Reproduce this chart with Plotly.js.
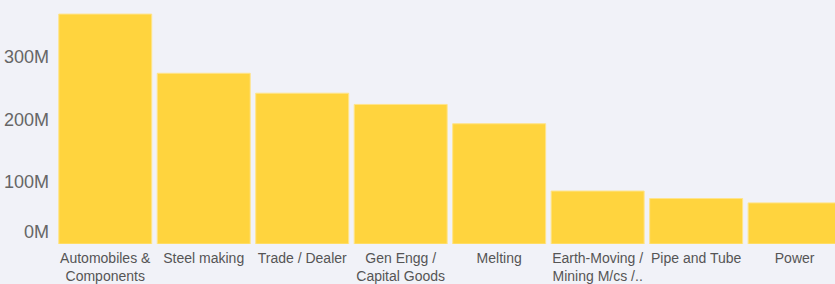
<!DOCTYPE html>
<html><head><meta charset="utf-8">
<script src="https://cdn.plot.ly/plotly-3.0.1.min.js"></script>
<style>html,body{margin:0;padding:0;background:#F1F2F8;}#c{width:835px;height:284px;}</style>
</head><body><div id="c"></div>
<script>
const categories = ["Automobiles &<br>Components", "Steel making", "Trade / Dealer", "Gen Engg /<br>Capital Goods", "Melting", "Earth-Moving /<br>Mining M/cs /..", "Pipe and Tube", "Power"];
const values = [369e6, 274e6, 242e6, 224e6, 193e6, 85e6, 73e6, 66e6];
const tickVals = [100e6, 200e6, 300e6];
const tickText = ["100M", "200M", "300M"];
const zeroVal = [0];
const zeroText = ["0M"];

const yRange = [0, 391.6e6];
const data = [{
  type: 'bar', x: categories, y: values,
  marker: {color: '#FFD43E', line: {color: '#FFE48A', width: 1}},
  hoverinfo: 'none'
}, {
  type: 'scatter', x: [categories[0]], y: [0], yaxis: 'y2', mode: 'markers',
  marker: {opacity: 0}, hoverinfo: 'none', showlegend: false
}];
const layout = {
  width: 835, height: 284,
  margin: {l: 56, r: 0, t: 0, b: 40},
  paper_bgcolor: '#F1F2F8', plot_bgcolor: '#F1F2F8',
  bargap: 0.056, showlegend: false,
  font: {family: 'Liberation Sans, Arial, sans-serif', color: '#666'},
  xaxis: {type: 'category', range: [-0.5, 7.41], showgrid: false, zeroline: false, showline: false,
    ticks: '', tickfont: {size: 14, color: '#555'}, ticklabelstandoff: 4, fixedrange: true},
  yaxis: {range: yRange, showgrid: false, zeroline: false, showline: false, ticks: '',
    tickvals: tickVals, ticktext: tickText, tickfont: {size: 18, color: '#666'}, ticklabelstandoff: 6},
  yaxis2: {overlaying: 'y', matches: 'y', range: yRange, side: 'left', showgrid: false, zeroline: false,
    showline: false, ticks: '', tickvals: zeroVal, ticktext: zeroText, tickfont: {size: 18, color: '#666'},
    ticklabelshift: -12, ticklabelstandoff: 6}
};
Plotly.newPlot('c', data, layout, {displayModeBar: false, staticPlot: true});
</script></body></html>
